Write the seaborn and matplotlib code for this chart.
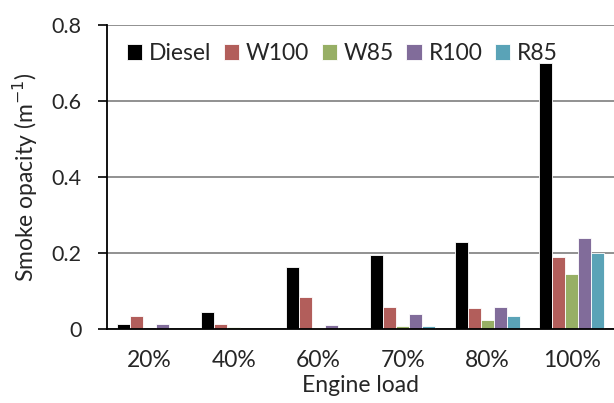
import matplotlib.pyplot as plt
import pandas as pd
import seaborn as sns
import numpy as np

loads = ["20%", "40%", "60%", "70%", "80%", "100%"]
fuels = ["Diesel", "W100", "W85", "R100", "R85"]
diesel = [0.014, 0.045, 0.164, 0.194, 0.230, 0.700]
w100 = [0.034, 0.014, 0.084, 0.059, 0.054, 0.189]
w85 = [0.0, 0.004, 0.003, 0.009, 0.025, 0.145]
r100 = [0.014, 0.0, 0.010, 0.039, 0.059, 0.240]
r85 = [0.0, 0.0, 0.0, 0.009, 0.034, 0.200]
colors = ["#000000", "#C0504D", "#9BBB59", "#8064A2", "#4BACC6"]

rows = []
for fuel, vals in zip(fuels, [diesel, w100, w85, r100, r85]):
    for load, v in zip(loads, vals):
        rows.append({"load": load, "fuel": fuel, "opacity": v})
df = pd.DataFrame(rows)

sns.set_style("white")
plt.rcParams["font.family"] = ["Lato", "DejaVu Sans"]

fig = plt.figure(figsize=(6.14, 4.03), dpi=100)
ax = fig.add_axes([0.1743, 0.1836, 0.8257, 0.7544])

sns.barplot(data=df, x="load", y="opacity", hue="fuel", order=loads,
            hue_order=fuels, palette=colors, width=0.77, ax=ax,
            edgecolor="white", linewidth=0.6, legend=True)

ax.set_ylim(0, 0.8)
ax.set_xlim(-0.5, 5.5)
ax.set_yticks([0, 0.2, 0.4, 0.6, 0.8])
ax.set_yticklabels(["0", "0.2", "0.4", "0.6", "0.8"])
ax.yaxis.grid(True, color="#888888", linewidth=1.3)
ax.set_axisbelow(True)

# ticks sit between the categories, like the Excel original
ax.set_xticks(np.arange(-0.5, 6, 1), minor=True)
ax.tick_params(axis="x", which="major", length=0, labelsize=16.5, pad=15)
ax.tick_params(axis="x", which="minor", length=6, width=1.2, color="black", direction="out")
ax.tick_params(axis="y", length=6.5, width=1.2, color="black", direction="out",
               labelsize=15.5, pad=12, left=True)

for s in ["top", "right"]:
    ax.spines[s].set_visible(False)
for s in ["left", "bottom"]:
    ax.spines[s].set_color("black")
    ax.spines[s].set_linewidth(1.3)

ax.set_xlabel("Engine load", fontsize=16.5, labelpad=3)
ax.set_ylabel("Smoke opacity (m$^{-1}$)", fontsize=16.5, labelpad=8)

handles, labels = ax.get_legend_handles_labels()
ax.legend(handles, labels, loc="upper left", ncol=5, frameon=False, fontsize=16.5,
          handlelength=0.66, handleheight=0.66, handletextpad=0.3, columnspacing=0.55,
          bbox_to_anchor=(0.039, 0.94), borderaxespad=0, borderpad=0)

fig.savefig("out.png", dpi=100)
